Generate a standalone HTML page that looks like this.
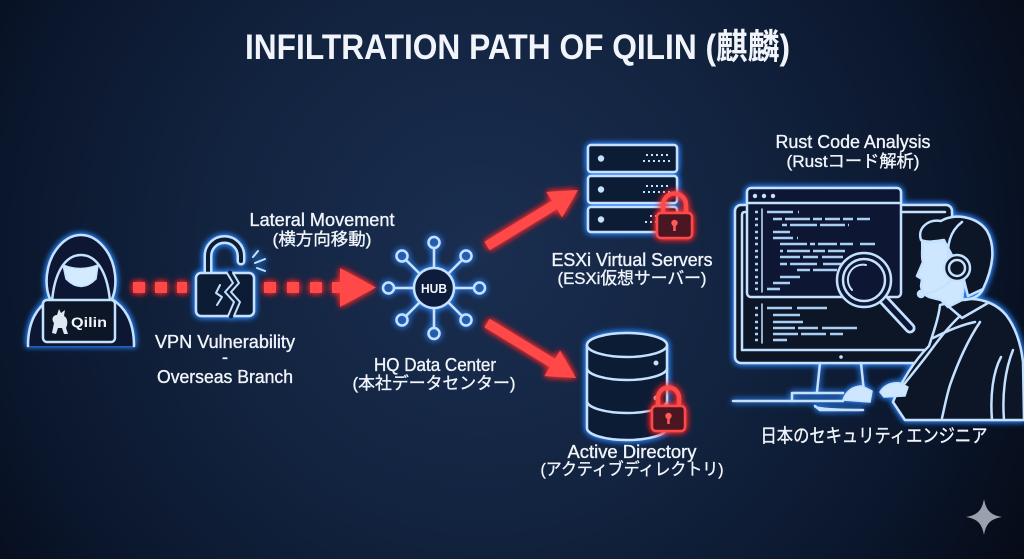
<!DOCTYPE html>
<html><head><meta charset="utf-8">
<style>
html,body{margin:0;padding:0;background:#0a1222;}
svg{display:block;}
text{font-family:"Liberation Sans","Noto Sans CJK JP",sans-serif;fill:#f1f5fb;}
.lb text{stroke:#f1f5fb;stroke-width:0.35;}
</style></head>
<body>
<svg width="1024" height="559" viewBox="0 0 1024 559" xmlns="http://www.w3.org/2000/svg">
<defs>
<radialGradient id="bg" cx="480" cy="250" r="620" gradientUnits="userSpaceOnUse">
<stop offset="0" stop-color="#1a2e50"/>
<stop offset="0.45" stop-color="#12233f"/>
<stop offset="0.8" stop-color="#0a152a"/>
<stop offset="1" stop-color="#060b17"/>
</radialGradient>
<filter id="gB" x="-30%" y="-30%" width="160%" height="160%">
<feGaussianBlur in="SourceAlpha" stdDeviation="3.2" result="b"/>
<feFlood flood-color="#2f86ff" flood-opacity="0.95"/>
<feComposite in2="b" operator="in" result="g"/>
<feMerge><feMergeNode in="g"/><feMergeNode in="g"/><feMergeNode in="SourceGraphic"/></feMerge>
</filter>
<filter id="gR" x="-30%" y="-30%" width="160%" height="160%">
<feGaussianBlur in="SourceAlpha" stdDeviation="3.5" result="b"/>
<feFlood flood-color="#ff2a2a" flood-opacity="0.9"/>
<feComposite in2="b" operator="in" result="g"/>
<feMerge><feMergeNode in="g"/><feMergeNode in="g"/><feMergeNode in="SourceGraphic"/></feMerge>
</filter>
</defs>
<rect width="1024" height="559" fill="url(#bg)"/>

<!-- Title -->
<text x="245" y="59" font-size="35" font-weight="bold" textLength="545" lengthAdjust="spacingAndGlyphs">INFILTRATION PATH OF QILIN (麒麟)</text>

<!-- Hacker -->
<g filter="url(#gB)" stroke="#c4e2ff" stroke-width="2.5" fill="none" stroke-linejoin="round" stroke-linecap="round">
<path d="M28 346 C28 320 38 307 50 299 C44 285 46 264 56 250 C64 239 73 235 81 235 C89 235 98 239 106 250 C116 264 118 285 112 299 C124 307 134 320 134 346" fill="#0b1530"/>
<path d="M52 302 C54 275 64 255 81 255 C98 255 108 275 110 302"/>
<path d="M63 265 Q80 272 98 265 L96 279 Q81 294 66 279 Z" fill="#d4eaff" stroke-width="1.5"/>
<rect x="43" y="300" width="72" height="42" rx="4" fill="#0a1428"/>
</g>
<path d="M52 333 L54 323 C51 319 53 315 57 315 L59 309 L61 313 L65 310 L64 316 C68 318 68 324 66 328 L68 334 L64 334 L62 328 L58 328 L56 334 Z" fill="#dfe8f2"/>
<text x="71" y="327" font-size="14" font-weight="bold" textLength="36" lengthAdjust="spacingAndGlyphs">Qilin</text>

<!-- Red dotted arrow 1 -->
<g fill="#ff4a4a" filter="url(#gR)">
<rect x="133" y="282" width="12" height="11"/>
<rect x="155" y="282" width="12" height="11"/>
<rect x="177" y="282" width="10" height="11"/>
<rect x="264" y="282" width="12" height="11"/>
<rect x="287" y="282" width="12" height="11"/>
<rect x="310" y="282" width="12" height="11"/>
<rect x="332" y="282" width="12" height="11"/>
<polygon points="340,268 376,287.5 340,307"/>
</g>

<!-- Broken lock -->
<g filter="url(#gB)" fill="none" stroke-linecap="round" stroke-linejoin="round">
<path d="M208 273 L208 256 A16.5 16.5 0 0 1 241 256 L241 261" stroke="#c4e2ff" stroke-width="9"/>
<path d="M208 273 L208 256 A16.5 16.5 0 0 1 241 256 L241 261" stroke="#0d1b36" stroke-width="4"/>
<rect x="196" y="273" width="58" height="43" rx="5" fill="#0c1a34" stroke="#c4e2ff" stroke-width="2.5"/>
<path d="M230 273 L236 283 L228 292 L237 302 L231 316" stroke="#0c1a34" stroke-width="5"/>
<path d="M227 273 L233 283 L225 292 L234 302 L228 316" stroke="#c4e2ff" stroke-width="2"/>
<path d="M233 273 L239 283 L231 292 L240 302 L234 316" stroke="#c4e2ff" stroke-width="2"/>
<path d="M220 285 L216 293 L222 297 L217 305" stroke="#c4e2ff" stroke-width="2"/>
<path d="M253 257 L258 251 M255 263 L265 259 M257 268 L265 271" stroke="#c4e2ff" stroke-width="2"/>
</g>

<!-- Hub -->
<g filter="url(#gB)" stroke="#c4e2ff" stroke-width="2.5" fill="none">
<circle cx="434" cy="288" r="20" fill="#0e1d3a"/>
<g>
<line x1="434" y1="268" x2="434" y2="248"/><circle cx="434" cy="242.5" r="5.5"/>
<line x1="434" y1="308" x2="434" y2="328"/><circle cx="434" cy="333.5" r="5.5"/>
<line x1="414" y1="288" x2="394" y2="288"/><circle cx="388.5" cy="288" r="5.5"/>
<line x1="454" y1="288" x2="474" y2="288"/><circle cx="479.5" cy="288" r="5.5"/>
<line x1="419.9" y1="273.9" x2="406" y2="260"/><circle cx="402" cy="256" r="5.5"/>
<line x1="448.1" y1="273.9" x2="462" y2="260"/><circle cx="466" cy="256" r="5.5"/>
<line x1="419.9" y1="302.1" x2="406" y2="316"/><circle cx="402" cy="320" r="5.5"/>
<line x1="448.1" y1="302.1" x2="462" y2="316"/><circle cx="466" cy="320" r="5.5"/>
</g>
</g>
<text x="434" y="293" font-size="13" font-weight="bold" text-anchor="middle" textLength="26" lengthAdjust="spacingAndGlyphs">HUB</text>

<!-- Red arrows to servers -->
<g filter="url(#gR)">
<line x1="487" y1="246" x2="556" y2="204" stroke="#ff4a4a" stroke-width="10"/>
<polygon points="578,190 562.1,217.5 546.3,191.9" fill="#ff4a4a"/>
<line x1="487" y1="323" x2="554" y2="364" stroke="#ff4a4a" stroke-width="10"/>
<polygon points="576,378 544.3,376.1 560.1,350.5" fill="#ff4a4a"/>
</g>

<!-- Server stack -->
<g filter="url(#gB)" stroke="#c4e2ff" stroke-width="2.5" fill="#0c1a34">
<rect x="588" y="145" width="89" height="27" rx="3"/>
<rect x="588" y="176" width="89" height="27" rx="3"/>
<rect x="588" y="207" width="89" height="25" rx="3"/>
<g fill="#c4e2ff" stroke="none">
<circle cx="601" cy="158.5" r="3.2"/><circle cx="601" cy="189.5" r="3.2"/><circle cx="601" cy="219.5" r="3.2"/>
</g>
<g stroke-width="2" stroke-dasharray="2 3" fill="none">
<line x1="646" y1="155" x2="670" y2="155"/><line x1="643" y1="161" x2="670" y2="161"/>
<line x1="646" y1="186" x2="670" y2="186"/><line x1="643" y1="192" x2="670" y2="192"/>
<line x1="650" y1="216" x2="660" y2="216"/><line x1="645" y1="222" x2="658" y2="222"/>
</g>
</g>
<!-- server lock -->
<g filter="url(#gR)">
<path d="M663 213 L663 205 A11.5 11.5 0 0 1 686 205 L686 213" fill="none" stroke="#ff4a4a" stroke-width="4.5"/>
<rect x="657" y="213" width="35" height="25" rx="4" fill="#4a1220" stroke="#ff4a4a" stroke-width="2.5"/>
<circle cx="674.5" cy="223" r="3.2" fill="#ff5a5a"/>
<rect x="673.2" y="223" width="2.6" height="8" fill="#ff5a5a"/>
</g>

<!-- Database -->
<g filter="url(#gB)" stroke="#c4e2ff" stroke-width="2.5" fill="none">
<path d="M587 345 L587 428 A40 12 0 0 0 667 428 L667 345" fill="#0c1a34"/>
<ellipse cx="627" cy="345" rx="40" ry="12" fill="#0c1a34"/>
<path d="M587 368 A40 12 0 0 0 667 368"/>
<path d="M587 401 A40 12 0 0 0 667 401"/>
<circle cx="656" cy="363" r="2.5" fill="#c4e2ff" stroke="none"/>
<circle cx="656" cy="398" r="2.5" fill="#c4e2ff" stroke="none"/>
</g>
<g filter="url(#gR)">
<path d="M658 406 L658 398 A10.5 10.5 0 0 1 679 398 L679 406" fill="none" stroke="#ff4a4a" stroke-width="4.5"/>
<rect x="652" y="406" width="33" height="25" rx="4" fill="#4a1220" stroke="#ff4a4a" stroke-width="2.5"/>
<circle cx="668.5" cy="416" r="3.2" fill="#ff5a5a"/>
<rect x="667.2" y="416" width="2.6" height="8" fill="#ff5a5a"/>
</g>

<!-- Monitor & analyst -->
<g filter="url(#gB)" stroke="#c4e2ff" stroke-width="2.5" fill="none" stroke-linecap="round" stroke-linejoin="round">
<rect x="735" y="205" width="217" height="158" rx="6" fill="#0a1428"/>
<path d="M742 350 L742 215 Q742 212 745 212 L945 212"/>
<line x1="742" y1="350" x2="940" y2="350"/>
<circle cx="841" cy="357" r="1.8" fill="#c4e2ff" stroke="none"/>
<path d="M820 363 L817 392 M861 363 L864 392"/>
<path d="M733 401 L843 401 M792 400 L792 393 L843 393"/>
<path d="M820 410 L863 410 Q815 410 815 406 Z" />
<!-- code window -->
<rect x="747" y="188" width="154" height="109" rx="4" fill="#0b1630"/>
<line x1="747" y1="203" x2="901" y2="203"/>
<g fill="#c4e2ff" stroke="none"><circle cx="755" cy="196" r="2.2"/><circle cx="764" cy="196" r="2.2"/><circle cx="773" cy="196" r="2.2"/></g>
<line x1="762" y1="209" x2="762" y2="292" stroke-width="1.5"/>
<g stroke-width="2.6" stroke-linecap="butt" stroke="#a9cff5">
<path d="M755 212h3M755 219h3M755 225h3M755 232h3M755 238h3M755 244h3M755 251h3M755 257h3M755 264h3M755 270h3M755 277h3M755 283h3M755 289h3"/>
<path d="M767 212h26M798 212h1"/>
<path d="M773 219h9M785 219h25M813 219h9M825 219h15M843 219h10M857 219h13"/>
<path d="M782 225h5M790 225h27M820 225h25M848 225h1"/>
<path d="M773 232h17"/>
<path d="M773 238h20M797 238h1"/>
<path d="M780 244h27M810 244h5M818 244h19M840 244h13M860 244h15"/>
<path d="M780 251h3M787 251h23M813 251h12M828 251h17"/>
<path d="M780 257h20M803 257h15M822 257h21"/>
<path d="M780 264h7M790 264h27M823 264h20"/>
<path d="M797 270h13M813 270h24"/>
<path d="M780 277h20"/>
<path d="M773 283h17"/>
<path d="M767 289h13"/>
<path d="M755 308h3M755 315h3M755 322h3M755 328h3M755 334h3M755 340h3"/>
<path d="M767 308h25M797 308h30"/>
<path d="M773 315h27"/>
<path d="M773 322h30"/>
<path d="M773 328h22M798 328h20M822 328h35"/>
<path d="M773 334h25M801 334h25M830 334h13"/>
<path d="M773 340h14"/>
</g>
<line x1="762" y1="304" x2="762" y2="343" stroke-width="1.5"/>
<!-- magnifier -->
<path d="M883 299 L910 328" stroke-width="11"/>
<path d="M883 299 L910 328" stroke="#0b1630" stroke-width="5.5"/>
<circle cx="864" cy="280" r="27" fill="#0a1530"/>
<circle cx="864" cy="280" r="21"/>
<path d="M852 290 A15 15 0 0 1 866 265" stroke-width="2"/>
<!-- person body -->
<path d="M940 305 L960 300 C976 297 994 301 1006 315 C1016 328 1021 345 1023 362 L1024 420 L905 420 L893 402 C902 380 915 360 929 346 C934 331 939 316 940 305 Z" fill="#0a1428"/>
<path d="M960 316 C945 330 935 345 925 358 C914 372 904 384 895 396"/>
<path d="M980 322 C968 340 958 362 950 385 C946 398 944 410 942 418"/>
<path d="M948 306 L962 318 L988 303"/>
<path d="M1001 357 C993 372 990 395 992 420"/>
<path d="M1013 350 C1005 370 1002 395 1004 420"/>
<path d="M933 338 C945 332 960 325 975 322"/>
<!-- head -->
<path d="M922 240 C926 244 936 242 944 240 C950 252 958 266 964 282 L962 300 L948 307 L941 300 L933 298 C926 297 922 293 921 286 L922 279 L917 276 L923 262 C921 256 923 250 922 240 Z" fill="#cfe6ff"/>
<path d="M921 240 C917 228 928 219 941 221 C953 213 977 216 987 231 C996 247 993 268 983 289 L968 296 L964 280 C958 266 950 252 944 240 C937 241 928 243 921 240 Z" fill="#0a1428"/>
<path d="M983 289 C980 296 972 300 962 300"/>
<path d="M949 262 C946 246 950 231 962 222"/>
<circle cx="957" cy="268" r="13" fill="#0a1428"/>
<circle cx="957" cy="268" r="8"/>
<path d="M950 281 Q940 292 923 294"/>
<circle cx="921" cy="294" r="3" fill="#cfe6ff"/>
<!-- hands -->
<path d="M843 400 C846 391 853 386 862 386 L872 391 L870 402 Z" fill="#cfe6ff" stroke-width="1.5"/>
<path d="M880 392 C884 385 892 382 900 383 L908 387 L905 396 L884 397 Z" fill="#cfe6ff" stroke-width="1.5"/>
</g>

<!-- Labels -->
<g font-size="18" class="lb">
<text x="322" y="226" text-anchor="middle" textLength="145" lengthAdjust="spacingAndGlyphs">Lateral Movement</text>
<text x="322" y="245" text-anchor="middle" font-size="17" textLength="99" lengthAdjust="spacingAndGlyphs">(横方向移動)</text>
<text x="225" y="348" text-anchor="middle" textLength="140" lengthAdjust="spacingAndGlyphs">VPN Vulnerability</text>
<text x="225" y="363" text-anchor="middle">-</text>
<text x="225" y="383" text-anchor="middle" textLength="136" lengthAdjust="spacingAndGlyphs">Overseas Branch</text>
<text x="435" y="371" text-anchor="middle" textLength="122" lengthAdjust="spacingAndGlyphs">HQ Data Center</text>
<text x="434" y="389" text-anchor="middle" font-size="17" textLength="163" lengthAdjust="spacingAndGlyphs">(本社データセンター)</text>
<text x="632" y="266" text-anchor="middle" textLength="161" lengthAdjust="spacingAndGlyphs">ESXi Virtual Servers</text>
<text x="632" y="284" text-anchor="middle" font-size="17" textLength="149" lengthAdjust="spacingAndGlyphs">(ESXi仮想サーバー)</text>
<text x="632" y="458" text-anchor="middle" textLength="129" lengthAdjust="spacingAndGlyphs">Active Directory</text>
<text x="632" y="475" text-anchor="middle" font-size="17" textLength="183" lengthAdjust="spacingAndGlyphs">(アクティブディレクトリ)</text>
<text x="853" y="148" text-anchor="middle" textLength="155" lengthAdjust="spacingAndGlyphs">Rust Code Analysis</text>
<text x="853" y="167" text-anchor="middle" font-size="17" textLength="133" lengthAdjust="spacingAndGlyphs">(Rustコード解析)</text>
<text x="874" y="442" text-anchor="middle" font-size="19" textLength="227" lengthAdjust="spacingAndGlyphs">日本のセキュリティエンジニア</text>
</g>

<!-- Sparkle -->
<path d="M984 499 C986 510 990 515 1002 517 C990 519 986 524 984 535 C982 524 978 519 966 517 C978 515 982 510 984 499 Z" fill="#9aa0ac"/>
</svg>
</body></html>
